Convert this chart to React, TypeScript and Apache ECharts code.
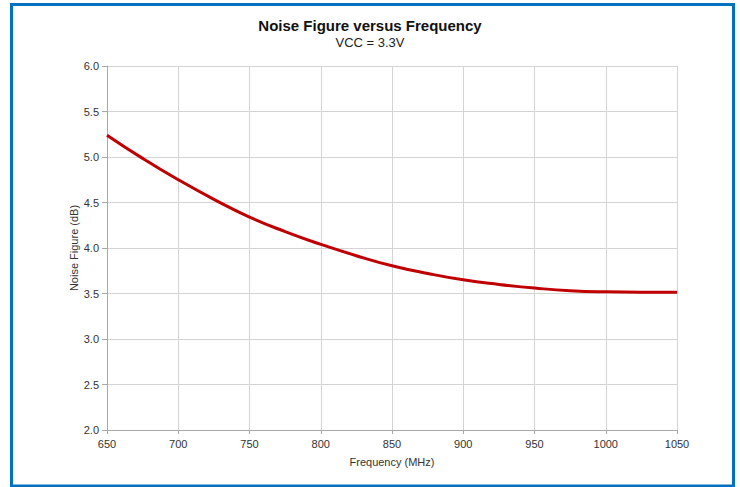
import React, { useEffect, useRef } from "react";
import * as echarts from "echarts";

const frequencies = [650, 675, 700, 725, 750, 775, 800, 825, 850, 875, 900, 925, 950, 975, 1000, 1025, 1050];
const noiseFigure = [5.24, 4.985, 4.75, 4.535, 4.34, 4.18, 4.04, 3.915, 3.805, 3.72, 3.65, 3.6, 3.56, 3.53, 3.518, 3.515, 3.515];
const titleText = "Noise Figure versus Frequency";
const subtitleText = "VCC = 3.3V";
const xName = "Frequency (MHz)";
const yName = "Noise Figure (dB)";

export default function App() {
  const ref = useRef<HTMLDivElement>(null);
  useEffect(() => {
    if (!ref.current) return;
    const chart = echarts.init(ref.current, undefined, { renderer: "svg" });
    const font = "'Liberation Sans', Arial, sans-serif";
    chart.setOption({
      animation: false,
      backgroundColor: "#ffffff",
      textStyle: { fontFamily: font },
      title: {
        text: titleText,
        subtext: subtitleText,
        left: "center",
        top: 13,
        itemGap: 3,
        textStyle: { fontFamily: font, fontSize: 15, fontWeight: "bold", color: "#111" },
        subtextStyle: { fontFamily: font, fontSize: 13, color: "#222" },
      },
      grid: { left: 107, right: 63, top: 66, bottom: 57, containLabel: false },
      xAxis: {
        type: "value",
        min: 650,
        max: 1050,
        interval: 50,
        name: xName,
        nameLocation: "middle",
        nameGap: 26,
        nameTextStyle: { fontFamily: font, fontSize: 11, color: "#333" },
        axisLine: { show: true, lineStyle: { color: "#a8a8a8" } },
        axisTick: { show: true, length: 4, lineStyle: { color: "#a8a8a8" } },
        axisLabel: {
          fontFamily: font,
          fontSize: 11,
          color: "#333",
          margin: 8,
          formatter: (v: number) => String(v),
        },
        splitLine: { show: true, lineStyle: { color: "#d4d4d4" } },
      },
      yAxis: {
        type: "value",
        min: 2,
        max: 6,
        interval: 0.5,
        name: yName,
        nameLocation: "middle",
        nameGap: 28,
        nameMoveOverlap: false,
        nameRotate: 90,
        nameTextStyle: { fontFamily: font, fontSize: 11, color: "#333" },
        axisLine: { show: true, lineStyle: { color: "#a8a8a8" } },
        axisTick: { show: true, length: 5, lineStyle: { color: "#a8a8a8" } },
        axisLabel: {
          fontFamily: font,
          fontSize: 11,
          color: "#333",
          margin: 8,
          formatter: (v: number) => v.toFixed(1),
        },
        splitLine: { show: true, lineStyle: { color: "#d4d4d4" } },
      },
      graphic: [
        {
          type: "rect",
          shape: { x: 11.5, y: 4.5, width: 722, height: 481.5 },
          style: { fill: "none", stroke: "#0070C0", lineWidth: 3 },
          silent: true,
        },
      ],
      series: [
        {
          type: "line",
          data: frequencies.map((f, i) => [f, noiseFigure[i]]),
          smooth: true,
          showSymbol: false,
          lineStyle: { color: "#C00000", width: 3 },
        },
      ],
    });
    return () => chart.dispose();
  }, []);
  return (
    <div
      ref={ref}
      style={{ position: "absolute", left: 0, top: 0, width: 740, height: 487 }}
    />
  );
}
